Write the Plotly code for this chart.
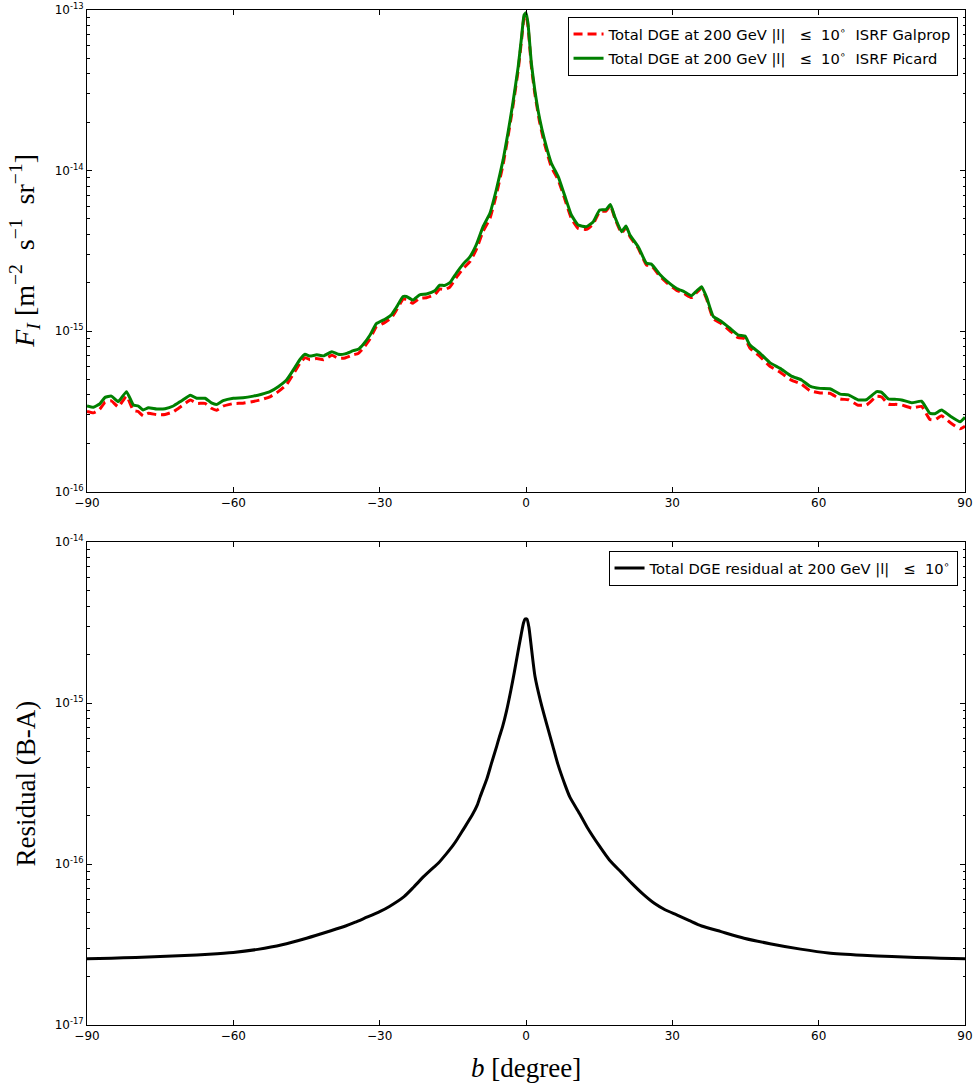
import plotly.graph_objects as go
from plotly.subplots import make_subplots

# Galactic latitude grid (degrees)
b_deg = [-90, -88.7, -87.4, -86.3, -85.0, -83.6, -81.9, -80.5, -79.5, -78.5,
         -77.4, -75.7, -74.0, -72.3, -70.6, -68.8, -67.5, -65.8, -64.5, -63.4,
         -62.1, -60.0, -58.0, -55.9, -54.2, -52.5, -50.8, -49.1, -47.7, -46.3,
         -45.3, -44.3, -42.9, -41.5, -39.8, -38.5, -37.1, -35.4, -34.4, -33.3,
         -32.0, -30.7, -29.0, -27.6, -26.6, -25.2, -24.5, -23.2, -21.8, -20.4,
         -18.7, -17.7, -16.7, -15.6, -14.3, -12.9, -11.5, -10.2, -8.8, -7.4,
         -6.1, -4.7, -3.7, -2.7, -1.6, -0.9, -0.4, 0.0, 0.4, 1.1,
         1.8, 2.8, 3.8, 5.2, 6.6, 7.9, 9.3, 10.7, 12.4, 13.8,
         15.1, 16.4, 17.3, 18.2, 19.6, 20.5, 21.3, 23.0, 24.7, 25.7,
         27.4, 29.0, 30.9, 32.4, 33.9, 35.0, 36.0, 37.0, 38.4, 40.0,
         41.8, 43.5, 44.9, 45.9, 48.0, 50.0, 52.1, 54.4, 56.5, 58.2,
         60.3, 62.3, 64.4, 66.1, 68.1, 69.8, 71.9, 72.9, 74.3, 76.0,
         77.0, 79.1, 81.1, 82.8, 83.8, 85.2, 86.9, 89.0, 90.0]

# Total DGE at 200 GeV, ISRF Picard  [m^-2 s^-1 sr^-1]
flux_picard = [3.41e-16, 3.35e-16, 3.51e-16, 3.86e-16, 3.93e-16, 3.63e-16, 4.19e-16, 3.46e-16, 3.41e-16, 3.22e-16,
               3.33e-16, 3.27e-16, 3.28e-16, 3.41e-16, 3.68e-16, 3.98e-16, 3.81e-16, 3.81e-16, 3.57e-16, 3.49e-16,
               3.68e-16, 3.81e-16, 3.84e-16, 3.93e-16, 4.04e-16, 4.19e-16, 4.50e-16, 4.95e-16, 5.72e-16, 6.67e-16,
               7.16e-16, 6.98e-16, 7.10e-16, 7.00e-16, 7.43e-16, 7.16e-16, 7.20e-16, 7.54e-16, 7.69e-16, 8.30e-16,
               9.40e-16, 1.11e-15, 1.18e-15, 1.26e-15, 1.40e-15, 1.64e-15, 1.64e-15, 1.56e-15, 1.68e-15, 1.70e-15,
               1.78e-15, 1.93e-15, 1.92e-15, 2.00e-15, 2.29e-15, 2.61e-15, 2.90e-15, 3.44e-15, 4.47e-15, 5.41e-15,
               7.56e-15, 1.16e-14, 1.71e-14, 2.62e-14, 4.44e-14, 6.82e-14, 9.30e-14, 9.60e-14, 8.30e-14, 4.66e-14,
               3.18e-14, 2.10e-14, 1.55e-14, 1.11e-14, 9.15e-15, 7.03e-15, 5.28e-15, 4.57e-15, 4.47e-15, 4.80e-15,
               5.68e-15, 5.70e-15, 6.15e-15, 5.15e-15, 4.16e-15, 4.51e-15, 3.96e-15, 3.35e-15, 2.64e-15, 2.61e-15,
               2.26e-15, 2.03e-15, 1.84e-15, 1.76e-15, 1.66e-15, 1.78e-15, 1.89e-15, 1.63e-15, 1.23e-15, 1.15e-15,
               1.04e-15, 9.44e-16, 9.30e-16, 8.18e-16, 7.26e-16, 6.35e-16, 5.85e-16, 5.24e-16, 4.95e-16, 4.54e-16,
               4.39e-16, 4.37e-16, 4.04e-16, 4.00e-16, 3.72e-16, 3.73e-16, 4.19e-16, 4.15e-16, 3.77e-16, 3.75e-16,
               3.72e-16, 3.57e-16, 3.65e-16, 3.07e-16, 3.05e-16, 3.22e-16, 2.96e-16, 2.72e-16, 2.90e-16]

# Total DGE at 200 GeV, ISRF Galprop  [m^-2 s^-1 sr^-1]
flux_galprop = [3.15e-16, 3.09e-16, 3.25e-16, 3.60e-16, 3.67e-16, 3.37e-16, 3.93e-16, 3.20e-16, 3.15e-16, 2.96e-16,
                3.07e-16, 3.01e-16, 3.02e-16, 3.14e-16, 3.41e-16, 3.71e-16, 3.54e-16, 3.54e-16, 3.30e-16, 3.21e-16,
                3.40e-16, 3.53e-16, 3.55e-16, 3.64e-16, 3.74e-16, 3.89e-16, 4.19e-16, 4.63e-16, 5.39e-16, 6.33e-16,
                6.82e-16, 6.63e-16, 6.74e-16, 6.63e-16, 7.05e-16, 6.76e-16, 6.79e-16, 7.11e-16, 7.24e-16, 7.84e-16,
                8.92e-16, 1.06e-15, 1.128e-15, 1.205e-15, 1.342e-15, 1.578e-15, 1.575e-15, 1.489e-15, 1.60e-15, 1.613e-15,
                1.684e-15, 1.828e-15, 1.808e-15, 1.878e-15, 2.153e-15, 2.447e-15, 2.705e-15, 3.21e-15, 4.175e-15, 5.02e-15,
                7.03e-15, 1.087e-14, 1.617e-14, 2.485e-14, 4.23e-14, 6.55e-14, 8.97e-14, 9.267e-14, 7.97e-14, 4.45e-14,
                3.03e-14, 1.995e-14, 1.465e-14, 1.05e-14, 8.74e-15, 6.71e-15, 5.03e-15, 4.36e-15, 4.30e-15, 4.65e-15,
                5.55e-15, 5.585e-15, 6.045e-15, 5.053e-15, 4.072e-15, 4.428e-15, 3.882e-15, 3.281e-15, 2.578e-15, 2.551e-15,
                2.205e-15, 1.979e-15, 1.792e-15, 1.714e-15, 1.616e-15, 1.737e-15, 1.849e-15, 1.59e-15, 1.191e-15, 1.112e-15,
                1.004e-15, 9.09e-16, 8.96e-16, 7.84e-16, 6.93e-16, 6.03e-16, 5.54e-16, 4.94e-16, 4.66e-16, 4.25e-16,
                4.11e-16, 4.09e-16, 3.77e-16, 3.73e-16, 3.45e-16, 3.46e-16, 3.92e-16, 3.88e-16, 3.50e-16, 3.49e-16,
                3.46e-16, 3.31e-16, 3.39e-16, 2.81e-16, 2.79e-16, 2.96e-16, 2.70e-16, 2.46e-16, 2.55e-16]

# Residual (B-A) on its own latitude grid
res_b = [-90, -85, -80, -75, -70, -65, -60, -55, -50, -45,
         -40, -37, -35, -33, -30, -28, -25, -23, -21, -19,
         -18, -16.3, -15, -14, -12.9, -11, -10, -9.4, -8, -7.1,
         -6, -5.5, -4.8, -4, -3.1, -2.4, -1.7, -1.0, -0.5, -0.2,
         0.2, 0.6, 1.0, 1.85, 3.0, 4.4, 5.5, 6.5, 8, 9,
         11, 12.5, 15, 17.1, 19.5, 21.7, 24, 26.3, 28.5, 31,
         33.5, 36, 40, 44.7, 50, 56.3, 62, 69, 75, 80,
         85, 90]
residual = [2.58e-17, 2.60e-17, 2.63e-17, 2.66e-17, 2.70e-17, 2.75e-17, 2.82e-17, 2.95e-17, 3.15e-17, 3.46e-17,
            3.85e-17, 4.12e-17, 4.35e-17, 4.62e-17, 5.06e-17, 5.45e-17, 6.27e-17, 7.20e-17, 8.34e-17, 9.50e-17,
            1.01e-16, 1.16e-16, 1.30e-16, 1.44e-16, 1.63e-16, 2.02e-16, 2.32e-16, 2.62e-16, 3.40e-16, 4.20e-16,
            5.40e-16, 6.10e-16, 7.13e-16, 8.90e-16, 1.20e-15, 1.55e-15, 2.04e-15, 2.65e-15, 3.15e-15, 3.32e-15,
            3.32e-15, 2.95e-15, 2.35e-15, 1.46e-15, 1.02e-15, 7.10e-16, 5.40e-16, 4.20e-16, 3.10e-16, 2.60e-16,
            2.05e-16, 1.70e-16, 1.30e-16, 1.06e-16, 8.90e-17, 7.58e-17, 6.50e-17, 5.70e-17, 5.20e-17, 4.82e-17,
            4.45e-17, 4.12e-17, 3.80e-17, 3.46e-17, 3.20e-17, 2.96e-17, 2.80e-17, 2.71e-17, 2.66e-17, 2.63e-17,
            2.60e-17, 2.58e-17]

x_ticks = [-90, -60, -30, 0, 30, 60, 90]
x_ticktext = ["\u221290", "\u221260", "\u221230", "0", "30", "60", "90"]
top_decades = [-16, -15, -14, -13]
bottom_decades = [-17, -16, -15, -14]

W, H = 977, 1091
NB = "\u00a0"
LEQ = "|l|" + NB * 3 + "\u2264" + NB * 2 + "10<sup>\u2218</sup>"

fig = make_subplots(rows=2, cols=1, vertical_spacing=0.0, shared_xaxes=False)

fig.add_trace(go.Scatter(
    x=b_deg, y=flux_galprop, mode="lines",
    name="Total DGE at 200 GeV " + LEQ + NB * 2 + "ISRF Galprop",
    line=dict(color="#ff0000", width=3, dash="9px,5px", shape="spline", smoothing=0.4),
    legend="legend", legendgroup="a"), row=1, col=1)
fig.add_trace(go.Scatter(
    x=b_deg, y=flux_picard, mode="lines",
    name="Total DGE at 200 GeV " + LEQ + NB * 2 + "ISRF Picard",
    line=dict(color="#008000", width=3, shape="spline", smoothing=0.4),
    legend="legend", legendgroup="b"), row=1, col=1)
fig.add_trace(go.Scatter(
    x=res_b, y=residual, mode="lines",
    name="Total DGE residual at 200 GeV " + LEQ,
    line=dict(color="black", width=3, shape="spline", smoothing=0.6),
    legend="legend2"), row=2, col=1)

tick_font = dict(family="DejaVu Sans", size=12, color="black")


def minor_vals(decades):
    return [k * 10.0 ** e for e in decades[:-1] for k in range(2, 10)]


def y_style(decades):
    return dict(
        type="log", range=[decades[0], decades[-1]],
        tickvals=[10.0 ** e for e in decades],
        ticktext=["10<sup>%d</sup>" % e for e in decades],
        ticks="inside", ticklen=5, tickcolor="black", tickwidth=1,
        minor=dict(tickvals=minor_vals(decades), ticks="inside", ticklen=2.5,
                   tickcolor="black", tickwidth=1),
        showline=True, linecolor="black", linewidth=1, mirror="allticks",
        showgrid=False, zeroline=False, tickfont=tick_font, automargin=False,
    )


def x_style():
    return dict(
        range=[-90, 90], tickvals=x_ticks, ticktext=x_ticktext,
        ticks="inside", ticklen=5, tickcolor="black", tickwidth=1,
        showline=True, linecolor="black", linewidth=1, mirror="allticks",
        showgrid=False, zeroline=False, tickfont=tick_font, automargin=False,
    )


ml, mr, mt, mb = 87, 12, 10, 66
ph = H - mt - mb
top_dom = [1 - 481.5 / ph, 1.0]
bot_dom = [0.0, (ph - 532) / ph]

legend_font = dict(family="DejaVu Sans", size=14.7, color="black")
fig.update_layout(
    width=W, height=H,
    margin=dict(l=ml, r=mr, t=mt, b=mb, pad=0, autoexpand=False),
    paper_bgcolor="white", plot_bgcolor="white",
    xaxis=dict(**x_style(), anchor="y"),
    xaxis2=dict(**x_style(), anchor="y2"),
    yaxis=dict(**y_style(top_decades), domain=top_dom, anchor="x"),
    yaxis2=dict(**y_style(bottom_decades), domain=bot_dom, anchor="x2"),
    legend=dict(
        x=0.9915, y=1 - 7 / ph, xanchor="right", yanchor="top",
        bgcolor="white", bordercolor="black", borderwidth=1,
        font=legend_font, traceorder="grouped", tracegroupgap=2, itemwidth=30,
    ),
    legend2=dict(
        x=0.9915, y=(ph - 541) / ph, xanchor="right", yanchor="top",
        bgcolor="white", bordercolor="black", borderwidth=1,
        font=legend_font, itemwidth=30,
    ),
    showlegend=True,
)

title_font = dict(family="Liberation Serif", size=27, color="black")
y_title_x = (25 - ml) / (W - ml - mr)
fig.add_annotation(
    text="<i>F</i><sub><i>I</i></sub>" + NB + "[m<sup>\u22122</sup>" + NB * 2 + "s<sup>\u22121</sup>"
         + NB * 2 + "sr<sup>\u22121</sup>]",
    xref="paper", yref="paper", x=y_title_x, y=(top_dom[0] + top_dom[1]) / 2,
    xanchor="center", yanchor="middle", textangle=-90, showarrow=False,
    font=dict(family="Liberation Serif", size=28, color="black"))
fig.add_annotation(
    text="Residual (B-A)",
    xref="paper", yref="paper", x=y_title_x, y=(bot_dom[0] + bot_dom[1]) / 2,
    xanchor="center", yanchor="middle", textangle=-90, showarrow=False, font=title_font)
fig.add_annotation(
    text="<i>b</i>" + NB + "[degree]",
    xref="paper", yref="paper", x=0.5, y=-(1068 - (H - mb)) / ph,
    xanchor="center", yanchor="middle", showarrow=False, font=title_font)

fig.write_html("out.html")
